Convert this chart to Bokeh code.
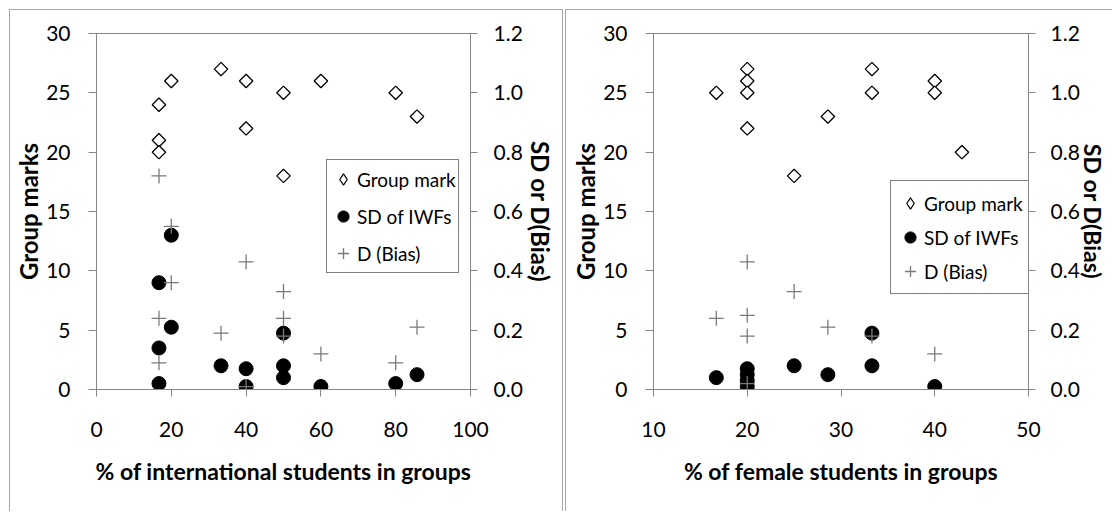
import numpy as np
from bokeh.plotting import figure
from bokeh.models import (Range1d, LinearAxis, FixedTicker, NumeralTickFormatter,
                          Legend, LegendItem)
from bokeh.layouts import row
from bokeh.embed import file_html
from bokeh.resources import INLINE

# ---------------- data ----------------
# Left panel: % of international students in groups
intl_mark_x = [16.7, 16.7, 16.7, 20, 33.3, 40, 40, 50, 50, 60, 80, 85.7]
intl_mark_y = [24, 21, 20, 26, 27, 26, 22, 25, 18, 26, 25, 23]
intl_sd_x = [16.7, 16.7, 16.7, 20, 20, 33.3, 40, 40, 50, 50, 50, 60, 80, 85.7]
intl_sd_y = [0.02, 0.14, 0.36, 0.52, 0.21, 0.08, 0.07, 0.01, 0.19, 0.08, 0.04, 0.01, 0.02, 0.05]
intl_d_x = [16.7, 16.7, 16.7, 20, 20, 33.3, 40, 40, 50, 50, 50, 60, 80, 85.7]
intl_d_y = [0.72, 0.24, 0.09, 0.55, 0.36, 0.19, 0.43, 0.01, 0.33, 0.24, 0.18, 0.12, 0.09, 0.21]

# Right panel: % of female students in groups
fem_mark_x = [16.7, 20, 20, 20, 20, 25, 28.6, 33.3, 33.3, 40, 40, 42.9]
fem_mark_y = [25, 27, 26, 25, 22, 18, 23, 27, 25, 26, 25, 20]
fem_sd_x = [16.7, 20, 20, 20, 20, 25, 28.6, 33.3, 33.3, 40]
fem_sd_y = [0.04, 0.07, 0.05, 0.03, 0.01, 0.08, 0.05, 0.19, 0.08, 0.01]
fem_d_x = [16.7, 20, 20, 20, 20, 25, 28.6, 33.3, 40]
fem_d_y = [0.24, 0.43, 0.25, 0.18, 0.02, 0.33, 0.21, 0.18, 0.12]

left_xticks = [0, 20, 40, 60, 80, 100]
right_xticks = [10, 20, 30, 40, 50]
mark_ticks = [0, 5, 10, 15, 20, 25, 30]
sd_ticks = [0.0, 0.2, 0.4, 0.6, 0.8, 1.0, 1.2]

legend_labels = ["Group mark", "SD of IWFs", "D (Bias)"]

FONT = "Lato"
AXIS_COLOR = "#868686"
PLUS_COLOR = "#7a7a7a"


def style_axis(ax, tick_out, standoff, title_standoff, title_size):
    ax.axis_line_color = AXIS_COLOR
    ax.major_tick_line_color = AXIS_COLOR
    ax.major_tick_out = tick_out
    ax.major_tick_in = 0
    ax.minor_tick_line_color = None
    ax.major_label_text_font = FONT
    ax.major_label_text_font_size = "21px"
    ax.major_label_text_color = "#000000"
    ax.major_label_standoff = standoff
    ax.axis_label_text_font = FONT
    ax.axis_label_text_font_size = title_size
    ax.axis_label_text_font_style = "bold"
    ax.axis_label_text_color = "#000000"
    ax.axis_label_standoff = title_standoff


def make_panel(xr, xticks, xlabel, mx, my, sx, sy, dx, dy, width, height,
               mb_left, mb_right, mb_top, mb_bottom, leg_loc, leg_pad, leg_label_h,
               leg_spacing, r_standoff, r_title_standoff, r_title_size, border_style):
    p = figure(width=width, height=height, output_backend="svg", toolbar_location=None,
               x_range=Range1d(*xr), y_range=Range1d(0, 30),
               min_border_left=mb_left, min_border_right=mb_right,
               min_border_top=mb_top, min_border_bottom=mb_bottom)
    p.styles = border_style
    p.background_fill_color = "white"
    p.border_fill_color = "white"
    p.outline_line_color = AXIS_COLOR
    p.xgrid.grid_line_color = None
    p.ygrid.grid_line_color = None

    p.xaxis.ticker = FixedTicker(ticks=xticks)
    p.xaxis.axis_label = xlabel
    p.yaxis.ticker = FixedTicker(ticks=mark_ticks)
    p.yaxis.axis_label = "Group marks"
    style_axis(p.xaxis[0], tick_out=7, standoff=25, title_standoff=17, title_size="23px")
    style_axis(p.yaxis[0], tick_out=8, standoff=18, title_standoff=0, title_size="24px")

    p.extra_y_ranges = {"r": Range1d(0, 1.2)}
    ax_r = LinearAxis(y_range_name="r", ticker=FixedTicker(ticks=sd_ticks),
                      formatter=NumeralTickFormatter(format="0.0"),
                      axis_label="SD or D(Bias)")
    style_axis(ax_r, tick_out=7, standoff=r_standoff, title_standoff=r_title_standoff,
               title_size=r_title_size)
    p.add_layout(ax_r, "right")

    p.scatter(mx, my, marker="square", angle=np.pi / 4, size=9.5,
              fill_color="white", line_color="black", line_width=1.3)
    r_sd = p.scatter(sx, sy, y_range_name="r", marker="circle", size=14,
                     fill_color="black", line_color="black")
    r_d = p.scatter(dx, dy, y_range_name="r", marker="cross", size=15,
                    line_color=PLUS_COLOR, line_width=1.3)

    # hidden twin of the group-mark series, used only to draw a diamond in the legend
    r_mark_leg = p.scatter(mx, my, marker="diamond", size=12, visible=False,
                           fill_color="white", line_color="black", line_width=1.2)

    leg = Legend(items=[LegendItem(label=legend_labels[0], renderers=[r_mark_leg]),
                        LegendItem(label=legend_labels[1], renderers=[r_sd]),
                        LegendItem(label=legend_labels[2], renderers=[r_d])],
                 location=leg_loc, orientation="vertical")
    leg.border_line_color = "black"
    leg.border_line_width = 1
    leg.background_fill_color = "white"
    leg.background_fill_alpha = 1
    leg.inactive_fill_alpha = 0
    leg.label_text_font = FONT
    leg.label_text_font_size = "19px"
    leg.label_text_color = "#000000"
    leg.glyph_width = 28
    leg.glyph_height = 34
    leg.label_height = leg_label_h
    leg.label_standoff = 0
    leg.padding = leg_pad
    leg.spacing = leg_spacing
    leg.margin = 0
    leg.click_policy = "none"
    p.add_layout(leg, "center")
    return p


p1 = make_panel((0, 100), left_xticks, "% of international students in groups",
                intl_mark_x, intl_mark_y, intl_sd_x, intl_sd_y, intl_d_x, intl_d_y,
                width=554, height=502, mb_left=86, mb_right=94, mb_top=23, mb_bottom=123,
                leg_loc=(230, 116), leg_pad=2, leg_label_h=33, leg_spacing=3,
                r_standoff=16, r_title_standoff=0, r_title_size="24px",
                border_style={"border": "1px solid #a6a6a6", "border-bottom": "none"})
p2 = make_panel((10, 50), right_xticks, "% of female students in groups",
                fem_mark_x, fem_mark_y, fem_sd_x, fem_sd_y, fem_d_x, fem_d_y,
                width=547, height=502, mb_left=87, mb_right=85, mb_top=23, mb_bottom=123,
                leg_loc=(237, 95), leg_pad=5, leg_label_h=34, leg_spacing=0,
                r_standoff=15, r_title_standoff=-4, r_title_size="23px",
                border_style={"border": "1px solid #a6a6a6", "border-right": "none",
                              "border-bottom": "none"})

layout = row(p1, p2, spacing=2)
layout.margin = (9, 0, 0, 9)

with open("out.html", "w") as f:
    f.write(file_html(layout, INLINE))
